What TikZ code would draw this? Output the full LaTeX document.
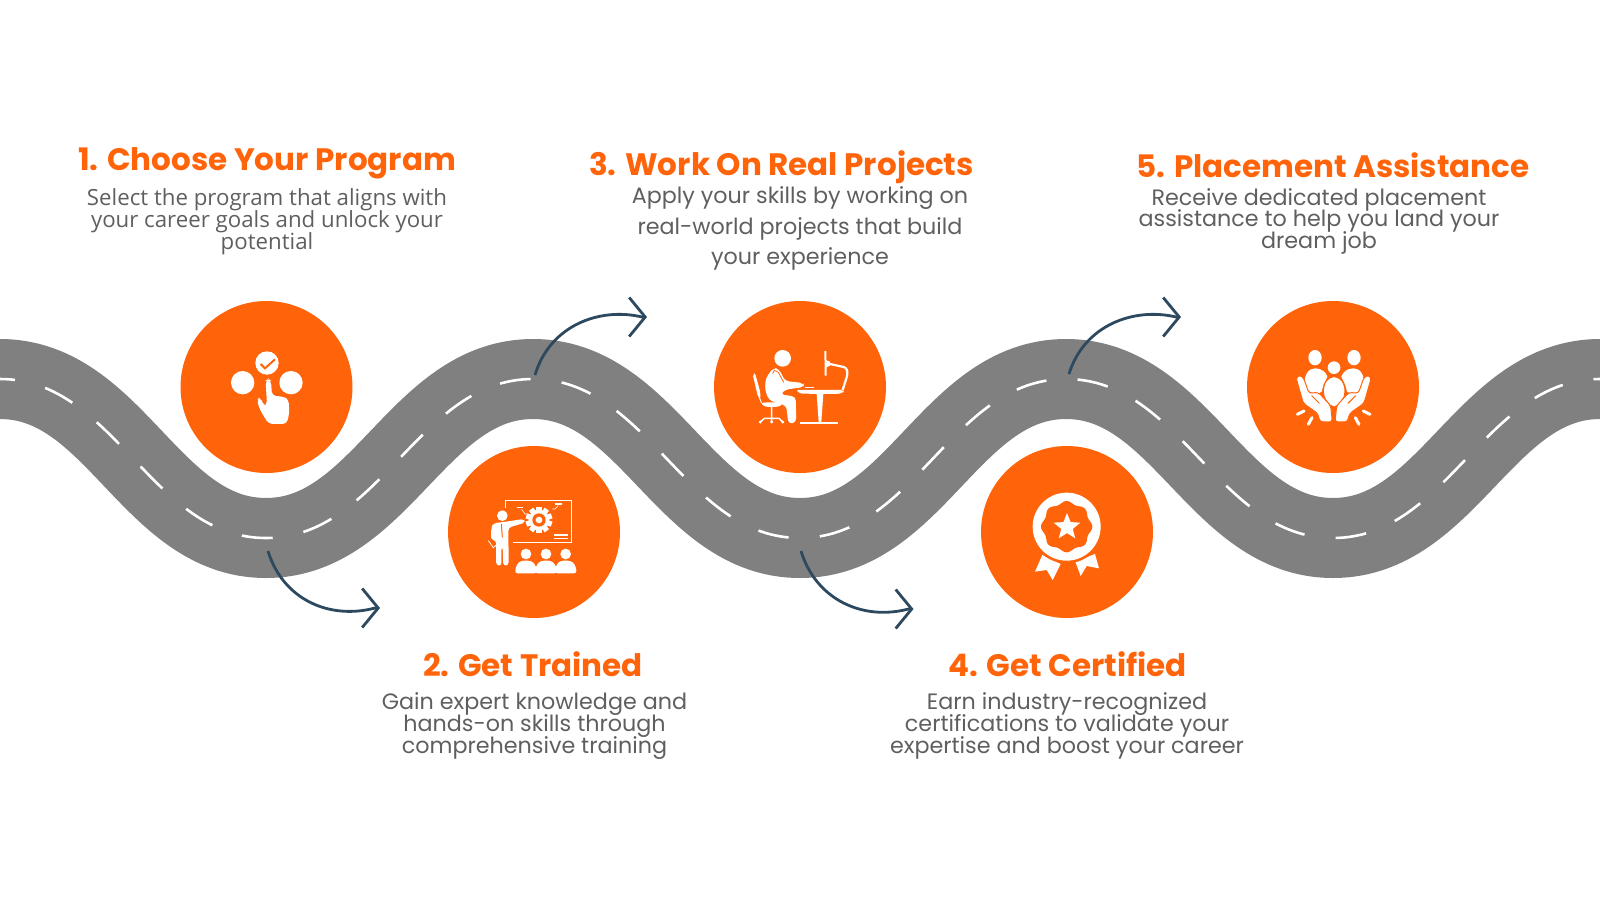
\documentclass[tikz,border=0pt]{standalone}
\usepackage{fontspec}
\setmainfont{Poppins}
\newfontfamily\opensans{Open Sans}
\usetikzlibrary{shapes.geometric, arrows.meta, positioning}
\definecolor{StepOrange}{RGB}{255, 100, 11}
\definecolor{RoadGray}{RGB}{128, 128, 128}
\definecolor{BodyGray}{RGB}{95, 95, 95}
\definecolor{CurveBlue}{RGB}{44, 73, 95}
\newcommand{\roadpath}{(-3,379) -- (0,379)
  .. controls (115,379) and (151,538) .. (266,538)
  .. controls (381,538) and (418,379) .. (533,379)
  .. controls (648,379) and (685,538) .. (800,538)
  .. controls (915,538) and (951,379) .. (1066,379)
  .. controls (1181,379) and (1218,538) .. (1333,538)
  .. controls (1448,538) and (1485,379) .. (1600,379) -- (1603,379)}
% keep tight line spacing even where ascenders and descenders touch
\AtBeginDocument{\normallineskiplimit=-10pt\relax\lineskiplimit=-10pt\relax}

\begin{document}
\begin{tikzpicture}[
    x=1pt, y=-1pt,
    every node/.style={align=center, inner sep=0pt},
    stepdot/.style={circle, fill=StepOrange, minimum size=172pt},
    heading/.style={anchor=base, text=StepOrange, font=\fontsize{31}{32}\selectfont\bfseries},
    blurb/.style={text=BodyGray, font=\fontsize{22.25}{21.7}\selectfont},
    wideblurb/.style={text=BodyGray, font=\fontsize{22.25}{30.5}\selectfont},
    roadbed/.style={draw=RoadGray, line width=80pt},
    lanemark/.style={draw=white, line width=2.6pt, dash pattern=on 31pt off 31.3pt, dash phase=13pt},
    curve/.style={draw=CurveBlue, line width=2.8pt, -{Straight Barb[length=16pt, width=39pt, line width=2.8pt]}},
    icon/.style={x=0.3333pt, y=-0.3333pt, fill=white, draw=none},
    thin white/.style={draw=white, line width=1pt},
    mark white/.style={draw=white, line width=2pt, line cap=round}
  ]
    \useasboundingbox (0,0) rectangle (1600,900);

    % Road
    \draw[roadbed] \roadpath;
    \draw[lanemark] \roadpath;

    % Stops along the road
    \node[stepdot] (choose) at (266.5,387) {};
    \node[stepdot] (trained) at (534,532) {};
    \node[stepdot] (projects) at (800,387) {};
    \node[stepdot] (certified) at (1067,532) {};
    \node[stepdot] (placement) at (1333,387) {};

    % Headings and blurbs
    \node[heading] (t1) at (267,170.5) {1. Choose Your Program};
    \node[blurb, below=18pt of t1.base] (b1) {\opensans Select the program that aligns with\\\opensans your career goals and unlock your\\\opensans potential};
    \node[heading] (t2) at (533,676.5) {2. Get Trained};
    \node[blurb, below=16pt of t2.base, xshift=1.5pt] (b2) {Gain expert knowledge and\\hands-on skills through\\comprehensive training};
    \node[heading] (t3) at (781.5,175.5) {3. Work On Real Projects};
    \node[wideblurb, below=11pt of t3.base, xshift=18.5pt] (b3) {Apply your skills by working on\\real-world projects that build\\your experience};
    \node[heading] (t4) at (1067.5,676.5) {4. Get Certified};
    \node[blurb, below=16pt of t4.base, xshift=-0.5pt] (b4) {Earn industry-recognized\\certifications to validate your\\expertise and boost your career};
    \node[heading] (t5) at (1333,177) {5. Placement Assistance};
    \node[blurb, below=11pt of t5.base, xshift=-14pt] (b5) {Receive dedicated placement\\assistance to help you land your\\dream job};

    % Curved arrows
    \coordinate (a1s) at (268,551);
    \coordinate (a1e) at (380,608);
    \coordinate (a2s) at (535,375);
    \coordinate (a2e) at (647,317);
    \coordinate (a3s) at (801,551);
    \coordinate (a3e) at (913.5,609);
    \coordinate (a4s) at (1069,374);
    \coordinate (a4e) at (1181,317);
    \draw[curve] (a1s) .. controls (283,600) and (330,620) .. ([xshift=-5pt]a1e) -- (a1e);
    \draw[curve] (a2s) .. controls (550,325) and (600,307) .. ([xshift=-5pt]a2e) -- (a2e);
    \draw[curve] (a3s) .. controls (816,600) and (863,621) .. ([xshift=-5pt]a3e) -- (a3e);
    \draw[curve] (a4s) .. controls (1084,325) and (1134,307) .. ([xshift=-5pt]a4e) -- (a4e);

    % Icon: pick an option
    \begin{scope}[shift={(170,290)}, icon]
      \fill (291,219) circle (35);
      \fill (218,278) circle (35);
      \fill (363,278) circle (35);
      \draw[StepOrange, line width=2pt] (272,222) -- (285,235) -- (315,208);
      \fill[rounded corners=4pt] (287,272) -- (295,266) -- (303,272) -- (306,317) -- (340,320) -- (356,328)
        -- (358,370) -- (350,402) -- (296,402) -- (270,360) -- (260,328) -- (272,322) -- (283,350) -- (291,345) -- cycle;
    \end{scope}

    % Icon: presenter and audience
    \begin{scope}[shift={(440,440)}, icon]
      \draw[thin white] (197,205) -- (197,180) -- (395,180) -- (395,307) -- (218,307);
      \draw[white, line width=1.2pt] (230,203) -- (248,203) (345,192) -- (365,192)
        (343,285) -- (383,285) (343,295) -- (383,295);
      \draw[white, line width=0.6pt] (245,208) -- (255,222) -- (262,222) (355,197) -- (345,207) -- (337,207);
      \foreach \a in {0,36,...,324}
        \fill[rotate around={\a:(297,240)}] (289,200) rectangle (305,215);
      \fill (297,240) circle (31);
      \fill[StepOrange] (297,240) circle (20);
      \fill (297,240) circle (10);
      \fill (187,227) circle (16);
      \fill[rounded corners=3pt] (160,250) -- (197,245) -- (252,237) -- (255,248) -- (205,263) -- (206,375)
        -- (190,378) -- (188,320) -- (184,320) -- (184,378) -- (168,375) -- (168,300) -- (153,300) -- (154,262) -- cycle;
      \draw[StepOrange, line width=1pt] (184,252) -- (187,292);
      \draw[thin white, line width=0.8pt] (145,302) -- (160,323) -- (192,295);
      \fill (258,342) circle (16);
      \fill (318,342) circle (16);
      \fill (377,342) circle (16);
      \foreach \dx in {0,60,119}
        \fill[rounded corners=3pt, shift={(\dx,0)}] (224,400) -- (230,373) -- (243,362) -- (273,362) -- (286,373) -- (292,400) -- cycle;
    \end{scope}

    % Icon: desk worker
    \begin{scope}[shift={(705,295)}, icon]
      \fill (233,190) circle (25);
      \fill[rounded corners=4pt] (182,250) -- (205,218) -- (222,222) -- (240,258) -- (295,264) -- (298,276)
        -- (240,284) -- (226,298) -- (272,305) -- (274,382) -- (250,387) -- (244,332) -- (192,316) -- (180,285) -- cycle;
      \draw[StepOrange, line width=0.8pt] (203,236) -- (208,226) -- (220,232) -- (236,262);
      \fill[rounded corners=2pt] (143,238) -- (150,234) -- (166,292) -- (166,312) -- (158,302) -- cycle;
      \draw[thin white] (160,300) -- (170,325);
      \fill[rounded corners=3pt] (166,323) -- (236,321) -- (226,335) -- (180,336) -- cycle;
      \draw[mark white, line width=1.5pt] (200,335) -- (200,380) (168,380) -- (178,370) -- (222,370) -- (232,380);
      \fill (166,381) circle (5) (200,381) circle (5) (233,381) circle (5);
      \draw[white, line width=1pt] (300,279) -- (326,279);
      \fill[rounded corners=3pt] (272,285) -- (417,285) -- (415,294) -- (395,297) -- (285,296) -- cycle;
      \fill (335,297) -- (355,297) -- (349,381) -- (341,381) -- cycle;
      \draw[white, line width=1.3pt] (284,384) -- (400,384);
      \draw[white, line width=1.9pt] (361,168) -- (362,242);
      \fill (362,195) -- (375,200) -- (375,212) -- (362,218) -- cycle;
      \draw[white, line width=2.2pt, rounded corners=3pt] (370,206) -- (425,218) -- (428,238) -- (413,285);
    \end{scope}

    % Icon: award rosette
    \begin{scope}[shift={(970,440)}, icon]
      \fill (217,345) -- (272,372) -- (248,420) -- (230,390) -- (195,395) -- cycle;
      \fill (375,342) -- (387,385) -- (350,378) -- (332,408) -- (316,365) -- cycle;
      \fill[StepOrange] (290,260) circle (110);
      \fill (290,260) circle (102);
      \fill[StepOrange] plot[smooth cycle, samples=96, domain=0:356.25] ({290+(73+4*cos(8*\x))*cos(\x)}, {260+(73+4*cos(8*\x))*sin(\x)});
    \end{scope}
    \node[star, star points=5, star point ratio=2.3, fill=white, minimum size=28pt] (medalstar) at (1067,527) {};

    % Icon: hands holding people
    \begin{scope}[shift={(1240,295)}, icon]
      \fill (225,188) ellipse (20 and 23);
      \fill (342,188) ellipse (20 and 23);
      \fill (282,218) circle (19);
      \fill (192,285) .. controls (190,240) and (205,220) .. (225,220) .. controls (245,220) and (258,232) .. (262,245) -- (250,270) -- (245,290) -- (225,300) -- cycle;
      \fill (374,285) .. controls (376,240) and (361,220) .. (341,220) .. controls (321,220) and (308,232) .. (304,245) -- (316,270) -- (321,290) -- (341,300) -- cycle;
      \filldraw[StepOrange, line width=1pt, fill=white] (250,290) .. controls (250,262) and (265,245) .. (282,245) .. controls (300,245) and (315,262) .. (315,290) .. controls (315,310) and (300,332) .. (282,336) .. controls (265,332) and (250,310) .. (250,290) -- cycle;
      \foreach \s in {1,-1} {
        \begin{scope}[shift={(281,0)}, xscale=\s, shift={(-281,0)}]
          \filldraw[StepOrange, line width=1pt, fill=white, rounded corners=3pt] (168,248) -- (178,240) -- (190,247) -- (207,295) -- (235,292) -- (272,332)
            -- (277,381) -- (240,381) -- (233,355) -- (190,325) -- cycle;
          \draw[StepOrange, line width=1pt, line cap=round] (215,302) -- (238,325);
          \draw[mark white, line width=3pt] (172,358) -- (192,348) (205,388) -- (216,368);
        \end{scope}
      }
    \end{scope}
\end{tikzpicture}
\end{document}
